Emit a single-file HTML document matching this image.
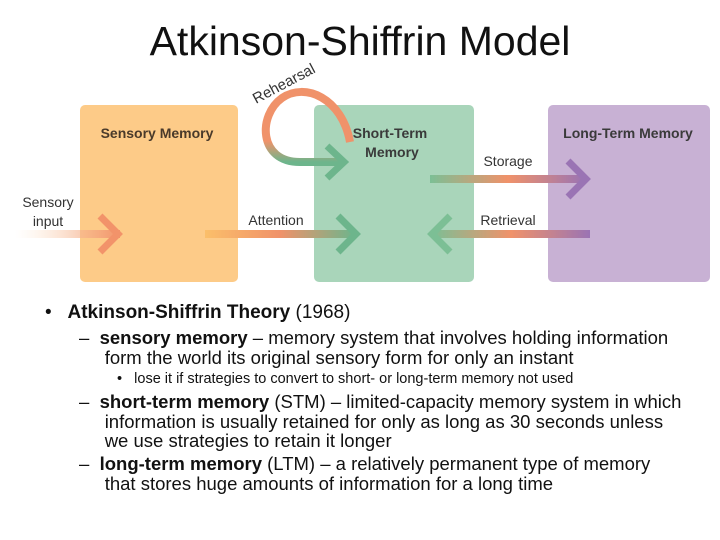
<!DOCTYPE html>
<html><head><style>
body{margin:0;width:720px;height:540px;background:#fff;font-family:"Liberation Sans",sans-serif;overflow:hidden;position:relative}
.t{position:absolute;left:0;width:720px;text-align:center;top:18px;font-size:41px;color:#111}
.b{position:absolute;color:#111;white-space:nowrap}
</style></head><body>
<div class="t">Atkinson-Shiffrin Model</div>
<svg width="720" height="540" style="position:absolute;left:0;top:0">
<defs>
<linearGradient id="g1" x1="0" x2="1"><stop offset="0" stop-color="#fbe3c4" stop-opacity="0"/><stop offset="1" stop-color="#f2936a"/></linearGradient>
<linearGradient id="g2" x1="0" x2="1"><stop offset="0" stop-color="#fbbf6a"/><stop offset=".5" stop-color="#f0926a"/><stop offset="1" stop-color="#6db58c"/></linearGradient>
<linearGradient id="g3" x1="0" x2="1"><stop offset="0" stop-color="#7cbf95"/><stop offset=".5" stop-color="#f0926a"/><stop offset="1" stop-color="#9a74b4"/></linearGradient>
<linearGradient id="g4" x1="0" x2="1"><stop offset="0" stop-color="#7cbf95"/><stop offset=".5" stop-color="#f0926a"/><stop offset="1" stop-color="#9a74b4"/></linearGradient>
<linearGradient id="g5" x1="0" x2="0" y1="0" y2="1"><stop offset="0" stop-color="#f0926a"/><stop offset=".7" stop-color="#f0926a"/><stop offset="1" stop-color="#6db58c"/></linearGradient>
</defs>
<rect x="80" y="105" width="158" height="177" rx="5" fill="#fdcb88"/>
<rect x="314" y="105" width="160" height="177" rx="5" fill="#a9d5ba"/>
<rect x="548" y="105" width="162" height="177" rx="5" fill="#c8b1d4"/>
<text x="157" y="138" font-size="14" text-anchor="middle" fill="#4a3a2a" font-weight="bold">Sensory Memory</text>
<text x="390" y="138" font-size="14" text-anchor="middle" fill="#3a3a3a" font-weight="bold">Short-Term</text>
<text x="392" y="157" font-size="14" text-anchor="middle" fill="#3a3a3a" font-weight="bold">Memory</text>
<text x="628" y="138" font-size="14" text-anchor="middle" fill="#3a3a3a" font-weight="bold">Long-Term Memory</text>
<text x="48" y="207" font-size="14" text-anchor="middle" fill="#333">Sensory</text>
<text x="48" y="226" font-size="14" text-anchor="middle" fill="#333">input</text>
<text x="276" y="225" font-size="14" text-anchor="middle" fill="#333">Attention</text>
<text x="508" y="166" font-size="14" text-anchor="middle" fill="#333">Storage</text>
<text x="508" y="225" font-size="14" text-anchor="middle" fill="#333">Retrieval</text>
<text x="256" y="104" font-size="15" fill="#333" transform="rotate(-28 256 104)">Rehearsal</text>
<rect x="15" y="230" width="105" height="8" fill="url(#g1)"/>
<polyline points="100,216 118,234 100,252" fill="none" stroke="#f2936a" stroke-width="7"/>
<rect x="205" y="230" width="150" height="8" fill="url(#g2)"/>
<polyline points="338,216 356,234 338,252" fill="none" stroke="#6db58c" stroke-width="7"/>
<rect x="432" y="230" width="158" height="8" fill="url(#g4)"/>
<polyline points="450,216 432,234 450,252" fill="none" stroke="#7cbf95" stroke-width="7"/>
<rect x="430" y="175" width="155" height="8" fill="url(#g3)"/>
<polyline points="568,161 586,179 568,197" fill="none" stroke="#9a74b4" stroke-width="7"/>
<path d="M350,142 C342,98 305,82 282,98 C258,115 258,162 300,162 L340,162" fill="none" stroke="url(#g5)" stroke-width="8"/>
<polyline points="327,146 344,162 327,178" fill="none" stroke="#6db58c" stroke-width="7"/>
</svg>
<div class="b" style="left:45px;top:302px;font-size:19px">•&nbsp;&nbsp; <b>Atkinson-Shiffrin Theory</b> (1968)</div>
<div class="b" style="left:79px;top:328px;font-size:18.5px;line-height:19.5px">–&nbsp; <b>sensory memory</b> – memory system that involves holding information<br>&nbsp;&nbsp;&nbsp;&nbsp;&nbsp;form the world its original sensory form for only an instant</div>
<div class="b" style="left:117px;top:371px;font-size:14.5px">•&nbsp;&nbsp; lose it if strategies to convert to short- or long-term memory not used</div>
<div class="b" style="left:79px;top:392px;font-size:18.5px;line-height:19.5px">–&nbsp; <b>short-term memory</b> (STM) – limited-capacity memory system in which<br>&nbsp;&nbsp;&nbsp;&nbsp;&nbsp;information is usually retained for only as long as 30 seconds unless<br>&nbsp;&nbsp;&nbsp;&nbsp;&nbsp;we use strategies to retain it longer</div>
<div class="b" style="left:79px;top:454px;font-size:18.5px;line-height:19.5px">–&nbsp; <b>long-term memory</b> (LTM) – a relatively permanent type of memory<br>&nbsp;&nbsp;&nbsp;&nbsp;&nbsp;that stores huge amounts of information for a long time</div>
</body></html>
